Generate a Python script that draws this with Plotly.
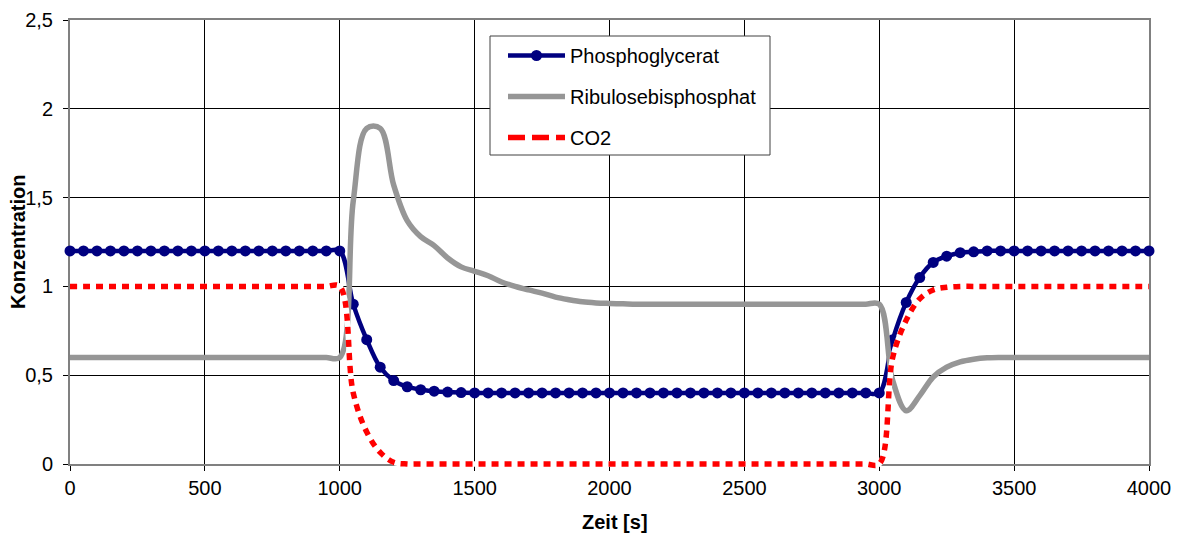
import plotly.graph_objects as go

# Zeitpunkte der Simulation (alle 50 s)
zeit = list(range(0, 4001, 50))

phosphoglycerat = [
    1.2, 1.2, 1.2, 1.2, 1.2, 1.2, 1.2, 1.2, 1.2, 1.2, 1.2,
    1.2, 1.2, 1.2, 1.2, 1.2, 1.2, 1.2, 1.2, 1.2, 1.2,
    0.90, 0.70, 0.545, 0.47, 0.435, 0.418, 0.41, 0.405, 0.402,
    0.4, 0.4, 0.4, 0.4, 0.4, 0.4, 0.4, 0.4, 0.4, 0.4, 0.4,
    0.4, 0.4, 0.4, 0.4, 0.4, 0.4, 0.4, 0.4, 0.4, 0.4,
    0.4, 0.4, 0.4, 0.4, 0.4, 0.4, 0.4, 0.4, 0.4, 0.4,
    0.70, 0.91, 1.05, 1.135, 1.17, 1.19, 1.195,
    1.2, 1.2, 1.2, 1.2, 1.2, 1.2, 1.2, 1.2, 1.2, 1.2, 1.2, 1.2, 1.2,
]

ribulosebisphosphat = [
    0.6, 0.6, 0.6, 0.6, 0.6, 0.6, 0.6, 0.6, 0.6, 0.6, 0.6,
    0.6, 0.6, 0.6, 0.6, 0.6, 0.6, 0.6, 0.6, 0.6, 0.6,
    1.48, 1.89, 1.89, 1.57, 1.37, 1.28, 1.23, 1.16, 1.11, 1.085,
    1.06, 1.025, 1.0, 0.98, 0.962, 0.94, 0.925, 0.913, 0.907, 0.904,
    0.902, 0.9, 0.9, 0.9, 0.9, 0.9, 0.9, 0.9, 0.9, 0.9,
    0.9, 0.9, 0.9, 0.9, 0.9, 0.9, 0.9, 0.9, 0.9, 0.9,
    0.47, 0.30, 0.385, 0.49, 0.545, 0.575, 0.59, 0.598,
    0.6, 0.6, 0.6, 0.6, 0.6, 0.6, 0.6, 0.6, 0.6, 0.6, 0.6, 0.6,
]

co2 = [
    1.0, 1.0, 1.0, 1.0, 1.0, 1.0, 1.0, 1.0, 1.0, 1.0, 1.0,
    1.0, 1.0, 1.0, 1.0, 1.0, 1.0, 1.0, 1.0, 1.0, 1.0,
    0.40, 0.18, 0.065, 0.01,
    0, 0, 0, 0, 0, 0, 0, 0, 0, 0, 0, 0, 0, 0, 0, 0, 0, 0,
    0, 0, 0, 0, 0, 0, 0, 0, 0, 0, 0, 0, 0, 0, 0, 0, 0, 0,
    0.60, 0.81, 0.93, 0.98, 0.995,
    1.0, 1.0, 1.0, 1.0, 1.0, 1.0, 1.0, 1.0, 1.0, 1.0, 1.0, 1.0, 1.0, 1.0, 1.0,
]

x_ticks = [0, 500, 1000, 1500, 2000, 2500, 3000, 3500, 4000]
y_ticks = [0, 0.5, 1, 1.5, 2, 2.5]
y_ticktext = ["0", "0,5", "1", "1,5", "2", "2,5"]

FONT = "Liberation Sans, Arial, sans-serif"
NAVY = "#000080"
GRAU = "#969696"
ROT = "#FF0000"
FS = 20

W, H = 1177, 537
ML, MR, MT, MB = 64, 22, 14, 67
PW, PH = W - ML - MR, H - MT - MB      # Zeichenfläche in px
PAD = 6                                # Rand, damit Linien am Achsenrand nicht abgeschnitten werden

x_min, x_max = 0, 4000
y_min, y_max = 0, 2.5
dx = PAD * (x_max - x_min) / (PW - 2 * PAD)
dy = PAD * (y_max - y_min) / (PH - 2 * PAD)

fig = go.Figure()

# leere Spur, damit das sichtbare Achsenpaar (Gitter, Ticks) gezeichnet wird
fig.add_trace(go.Scatter(x=[None], y=[None], mode="lines", showlegend=False,
                         hoverinfo="skip", xaxis="x", yaxis="y"))

# Kurven auf einem unsichtbaren, etwas größeren Achsenpaar
common = dict(xaxis="x2", yaxis="y2", line_shape="spline")

fig.add_trace(go.Scatter(
    x=zeit, y=phosphoglycerat, name="Phosphoglycerat", mode="lines+markers",
    line=dict(color=NAVY, width=4.5), marker=dict(color=NAVY, size=11),
    legendgroup="a", cliponaxis=False, **common))

fig.add_trace(go.Scatter(
    x=zeit, y=ribulosebisphosphat, name="Ribulosebisphosphat", mode="lines",
    line=dict(color=GRAU, width=5.5), legendgroup="b", **common))

# CO2: weiße Unterlage sorgt für weiße Lücken zwischen den roten Strichen
fig.add_trace(go.Scatter(
    x=zeit, y=co2, mode="lines", showlegend=False, hoverinfo="skip",
    line=dict(color="white", width=5.5), **common))
fig.add_trace(go.Scatter(
    x=zeit, y=co2, name="CO2", mode="lines", showlegend=False,
    line=dict(color=ROT, width=5.5, dash="7px,6px"), **common))
# Legendeneintrag für CO2 mit langen Strichen
fig.add_trace(go.Scatter(
    x=[None], y=[None], name="CO2", mode="lines", legendgroup="c",
    line=dict(color=ROT, width=5.5, dash="17px,7px"), xaxis="x2", yaxis="y2"))

axis_font = dict(family=FONT, size=FS, color="black")

fig.update_layout(
    width=W, height=H,
    margin=dict(l=ML, r=MR, t=MT, b=MB, autoexpand=False),
    paper_bgcolor="white",
    plot_bgcolor="rgba(0,0,0,0)",
    font=dict(family=FONT, size=FS, color="black"),
    showlegend=True,
    xaxis=dict(
        range=[x_min, x_max], domain=[PAD / PW, 1 - PAD / PW],
        tickvals=x_ticks, ticks="outside", ticklen=5, tickcolor="black",
        showgrid=True, gridcolor="black", gridwidth=1, zeroline=False,
        showline=True, mirror=True, linecolor="#808080", linewidth=2,
        tickfont=axis_font, anchor="y", fixedrange=True, automargin=False,
    ),
    yaxis=dict(
        range=[y_min, y_max], domain=[PAD / PH, 1 - PAD / PH],
        tickvals=y_ticks, ticktext=y_ticktext, ticks="outside", ticklen=5,
        tickcolor="black", showgrid=True, gridcolor="black", gridwidth=1,
        zeroline=False, showline=True, mirror=True, linecolor="#808080",
        linewidth=2, tickfont=axis_font, anchor="x", fixedrange=True,
        automargin=False, ticklabelstandoff=6,
    ),
    xaxis2=dict(range=[x_min - dx, x_max + dx], domain=[0, 1],
                visible=False, anchor="y2", fixedrange=True, automargin=False),
    yaxis2=dict(range=[y_min - dy, y_max + dy], domain=[0, 1],
                visible=False, anchor="x2", fixedrange=True, automargin=False),
    legend=dict(
        x=(503 - ML) / PW, y=(H - MB - 36) / PH, xanchor="left", yanchor="top",
        bgcolor="rgba(0,0,0,0)", borderwidth=0,
        font=dict(family=FONT, size=FS, color="black"),
        traceorder="grouped", tracegroupgap=12, itemwidth=57,
    ),
    shapes=[dict(
        type="rect", xref="paper", yref="paper", layer="above",
        x0=(490 - ML) / PW, x1=(770 - ML) / PW,
        y0=(H - MB - 155) / PH, y1=(H - MB - 36) / PH,
        line=dict(color="#404040", width=1), fillcolor="white",
    )],
    annotations=[
        dict(text="<b>Konzentration</b>", xref="paper", yref="paper",
             x=(18 - ML) / PW, y=(H - MB - 242) / PH, textangle=-90,
             showarrow=False, xanchor="center", yanchor="middle",
             font=dict(family=FONT, size=FS, color="black")),
        dict(text="<b>Zeit [s]</b>", xref="paper", yref="paper",
             x=(615 - ML) / PW, y=(H - MB - 522) / PH,
             showarrow=False, xanchor="center", yanchor="middle",
             font=dict(family=FONT, size=FS, color="black")),
    ],
)

fig.write_html("out.html")
